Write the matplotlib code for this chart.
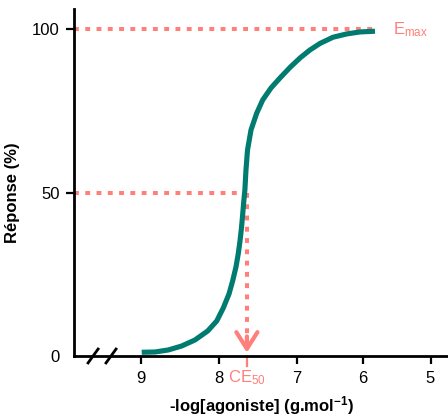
import numpy as np
import matplotlib
matplotlib.use("Agg")
import matplotlib.pyplot as plt
from matplotlib.transforms import blended_transform_factory

plt.rcParams["font.family"] = ["Liberation Sans", "DejaVu Sans"]
plt.rcParams["mathtext.default"] = "regular"

# data
log_conc = [8.991, 8.821, 8.650, 8.478, 8.308, 8.145, 8.029, 7.945, 7.871,
            7.824, 7.781, 7.752, 7.729, 7.710, 7.695, 7.681, 7.666, 7.652,
            7.632, 7.587, 7.514, 7.436, 7.329, 7.213, 7.084, 6.947, 6.797,
            6.647, 6.451, 6.245, 6.045, 5.822]
response = [1.13, 1.22, 1.84, 3.06, 4.90, 7.65, 10.71, 14.69, 18.98,
            22.96, 27.24, 31.22, 35.20, 39.18, 43.16, 47.14, 50.81, 56.93,
            63.05, 69.18, 74.29, 78.36, 82.03, 85.09, 88.31, 91.21, 93.66,
            95.65, 97.55, 98.56, 99.17, 99.39]
ec50 = 7.64
emax = 100
x_ticks = [9, 8, 7, 6, 5]
y_ticks = [0, 50, 100]

# the drawn axis is not evenly spaced between ticks
axis_vals = [4, 5, 6, 7, 8, 9, 10]
axis_pos = [-4.578, -3.712, -2.846, -1.994, -1.0, 0.0, 1.0]

def fwd(x):
    return np.interp(np.asarray(x, dtype=float), axis_vals, axis_pos)

def inv(u):
    return np.interp(np.asarray(u, dtype=float), axis_pos, axis_vals)

teal = "#007b70"
salmon = "#ff7f7a"
fs = 12

fig = plt.figure(figsize=(4.48, 4.19), dpi=100)
ax = fig.add_axes([0.1652, 0.1504, 0.8348, 0.8274])
ax.set_xscale("function", functions=(fwd, inv))
ax.set_xlim(9.859, 4.741)
ax.set_ylim(0, 106.1)

# guide lines
dots = (0, (1.2, 1.6))
ax.plot([9.859, log_conc[-1]], [emax, emax], color=salmon, lw=2.9,
        linestyle=dots, dash_capstyle="butt", zorder=2)
ax.plot([9.859, ec50], [50, 50], color=salmon, lw=2.9,
        linestyle=dots, dash_capstyle="butt", zorder=2)
ax.plot([ec50, ec50], [50, 3], color=salmon, lw=2.9,
        linestyle=dots, dash_capstyle="butt", zorder=2)
ax.annotate("", xy=(ec50, 1.0), xytext=(ec50, 6),
            arrowprops=dict(arrowstyle="->,head_length=0.6,head_width=0.38",
                            color=salmon, lw=3, mutation_scale=20,
                            shrinkA=0, shrinkB=0))

# curve
ax.plot(log_conc, response, color=teal, lw=3.7, solid_capstyle="butt",
        solid_joinstyle="round", zorder=3)

# axes styling
for s in ["top", "right"]:
    ax.spines[s].set_visible(False)
for s in ["left", "bottom"]:
    ax.spines[s].set_linewidth(2.0)
ax.set_xticks(x_ticks)
ax.set_xticklabels([str(t) for t in x_ticks])
ax.set_yticks(y_ticks)
ax.set_yticklabels([str(t) for t in y_ticks])
ax.tick_params(axis="both", length=5.5, width=1.6, labelsize=fs, pad=5)
ax.yaxis.get_major_ticks()[0].tick1line.set_visible(False)
ax.minorticks_off()

ax.set_xlabel("-log[agoniste] (g.mol$^{-1}$)", fontsize=fs, fontweight="bold",
              labelpad=6)
ax.set_ylabel("Réponse (%)", fontsize=fs, fontweight="bold")
ax.yaxis.set_label_coords(-0.145, 0.47)

# labels for Emax and CE50
ax.text(5.56, emax, "E$_{max}$", color=salmon, fontsize=fs, va="center",
        ha="left")
trans = blended_transform_factory(ax.transData, ax.transAxes)
ax.plot([ec50, ec50], [-0.006, -0.03], color=salmon, lw=1.6, transform=trans,
        clip_on=False)
ax.text(ec50, -0.063, "CE$_{50}$", color=salmon, fontsize=fs, ha="center",
        va="center", transform=trans)

# axis break marks
for xb in [0.051, 0.099]:
    ax.plot([xb - 0.0134, xb + 0.0134], [-0.02, 0.02], color="black", lw=2.0,
            transform=ax.transAxes, clip_on=False)

fig.savefig("out.png", dpi=100)
